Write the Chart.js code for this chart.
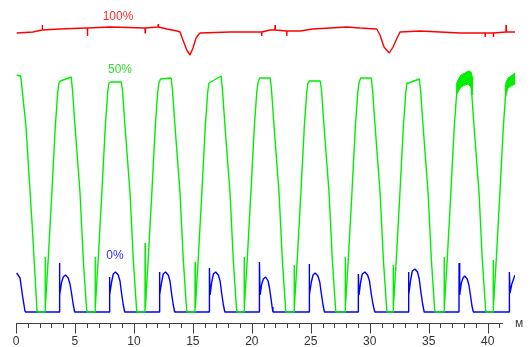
<!DOCTYPE html>
<html><head><meta charset="utf-8">
<script src="https://cdn.jsdelivr.net/npm/chart.js@4/dist/chart.umd.min.js"></script>
<style>html,body{margin:0;padding:0;background:#fff;overflow:hidden}#wrap{width:530px;height:347px;position:relative}</style>
</head><body><div id="wrap"><canvas id="c"></canvas></div>
<script>
// ---- data (x in ms, y in relative brightness units; 0 = black level) ----
const xTickValues = [0, 5, 10, 15, 20, 25, 30, 35, 40];
const axisEndMs = 41.3;
const unitLabel = 'мс';

const seriesNames = ['100%', '50%', '0%'];
const labelPosX = [8.65, 8.82, 8.40];
const labelPosY = [295, 242, 56];

const red100 = [
 [0.06,279],[1.44,280],[2.21,282],[2.23,287],[2.25,282],[3.73,283],[5.94,284],[6.05,284],[6.06,276],[6.08,284],
 [7.97,285],[10.94,284],[10.95,279],[10.97,284],[12.04,285],[12.06,288],[12.08,285],[12.81,283],[13.66,281],
 [13.91,280],[14.16,272],[14.48,262],[14.76,257],[15.01,264],[15.27,274],[15.52,278],[15.61,279],
 [18.15,280],[20.83,280],[20.84,276],[20.86,280],[21.54,282],[21.96,282],[21.97,287],[21.99,282],
 [22.95,281],[22.96,276],[22.98,281],[24.09,281],[25.19,283],[26.63,284],[28.07,285],[29.18,284],[30.59,283],
 [30.87,277],[31.21,265],[31.66,259],[31.98,265],[32.32,274],[32.57,280],
 [34.27,281],[35.96,280],[37.66,279],[39.78,279],[39.79,275],[39.81,279],[40.48,279],[40.49,275],[40.51,279],
 [41.55,280],[41.56,287],[41.58,280],[42.32,280]
];

const green50 = [
 [0.06,237],[0.40,236],[0.51,224],[0.85,185],[1.38,85],[1.78,2],[1.82,0],
 [2.46,0],[2.47,55],[2.49,4],[2.73,52],[3.04,119],[3.33,185],[3.54,220],[3.64,229],[3.78,231],[4.68,235],[4.79,222],[5.01,185],[5.43,119],[5.71,52],[5.99,2],[6.02,0],
 [6.70,0],[6.71,55],[6.73,4],[6.97,52],[7.28,119],[7.57,185],[7.78,220],[7.88,229],[8.02,230],[8.92,230],[9.03,222],[9.25,185],[9.67,119],[9.95,52],[10.23,2],[10.26,0],
 [10.94,0],[10.95,69],[10.97,4],[11.21,52],[11.52,119],[11.81,185],[12.02,220],[12.12,229],[12.26,233],[13.16,234],[13.27,222],[13.49,185],[13.91,119],[14.19,52],[14.47,2],[14.50,0],
 [15.18,0],[15.19,50],[15.21,4],[15.45,52],[15.76,119],[16.05,185],[16.26,220],[16.36,229],[16.50,230],[17.40,236],[17.51,222],[17.73,185],[18.15,119],[18.43,52],[18.71,2],[18.74,0],
 [19.34,0],[19.35,55],[19.37,4],[19.61,52],[19.92,119],[20.21,185],[20.42,220],[20.52,229],[20.66,234],[21.56,234],[21.67,222],[21.89,185],[22.31,119],[22.59,52],[22.87,2],[22.90,0],
 [23.58,0],[23.59,47],[23.61,4],[23.85,52],[24.16,119],[24.45,185],[24.66,220],[24.76,229],[24.90,231],[25.80,231],[25.91,222],[26.13,185],[26.55,119],[26.83,52],[27.11,2],[27.14,0],
 [27.91,0],[27.92,55],[27.94,4],[28.18,52],[28.49,119],[28.78,185],[28.99,220],[29.09,229],[29.23,234],[30.13,234],[30.24,222],[30.46,185],[30.88,119],[31.16,52],[31.44,2],[31.47,0],
 [31.98,0],[31.99,47],[32.01,4],[32.25,52],[32.56,119],[32.85,185],[33.06,220],[33.16,229],[33.30,229],[34.20,233],[34.31,222],[34.53,185],[34.95,119],[35.23,52],[35.51,2],[35.54,0],
 [36.30,0],[36.31,55],[36.33,4],[36.57,52],[36.88,119],[37.17,185],[37.38,220],[37.48,226],[37.62,231],[38.00,233],[38.52,233],[38.63,222],[38.85,185],[39.27,119],[39.55,52],[39.83,2],[39.86,0],
 [40.46,0],[40.47,52],[40.49,4],[40.73,52],[41.04,119],[41.33,185],[41.54,220],[41.64,226],[41.80,230],[42.32,234]
];

// noisy plateaus of the 50% trace (upper / lower envelopes)
const bandAUpper = [[37.32,227],[37.49,232],[37.74,237],[38.08,239],[38.34,241],[38.59,240],[38.76,232]];
const bandALower = [[37.32,217],[37.49,220],[37.74,225],[38.08,227],[38.34,228],[38.59,225],[38.76,217]];
const bandBUpper = [[41.48,222],[41.56,230],[41.73,234],[41.98,236],[42.32,239]];
const bandBLower = [[41.48,212],[41.56,217],[41.73,224],[41.98,226],[42.32,228]];

const blue0 = [
 [0.06,39],[0.34,34],[0.57,15],[0.76,1],[0.80,0],
 [3.67,0],[3.675,49],[3.73,17],[3.87,30],[4.01,35],[4.20,37],[4.43,34],[4.58,28],[4.72,18],[4.86,7],[4.98,0],
 [7.91,0],[7.915,35],[7.97,17],[8.11,30],[8.25,38],[8.44,40],[8.67,37],[8.82,31],[8.96,18],[9.10,7],[9.22,0],
 [12.15,0],[12.155,40],[12.21,17],[12.35,30],[12.49,38],[12.68,40],[12.91,37],[13.06,31],[13.20,18],[13.34,7],[13.46,0],
 [16.40,0],[16.405,44],[16.46,17],[16.60,30],[16.74,38],[16.93,40],[17.16,37],[17.31,31],[17.45,18],[17.59,7],[17.71,0],
 [20.64,0],[20.645,50],[20.70,17],[20.84,28],[20.98,33],[21.17,35],[21.38,31],[21.50,24],[21.62,14],[21.72,5],[21.79,0],
 [24.85,0],[24.855,48],[24.91,17],[25.05,30],[25.19,37],[25.38,39],[25.61,36],[25.76,30],[25.90,18],[26.04,7],[26.16,0],
 [29.03,0],[29.035,38],[29.09,17],[29.23,30],[29.37,38],[29.59,40],[29.82,37],[29.98,31],[30.13,18],[30.29,7],[30.43,0],
 [33.27,0],[33.275,40],[33.33,17],[33.47,32],[33.61,41],[33.83,43],[34.05,40],[34.20,33],[34.35,19],[34.50,7],[34.62,0],
 [37.57,0],[37.575,49],[37.63,17],[37.77,29],[37.91,34],[38.05,36],[38.27,33],[38.41,27],[38.54,17],[38.67,6],[38.79,0],
 [41.84,0],[41.845,40],[41.90,19],[42.05,28],[42.32,37]
];

// ---- chart ----
const toXY = a => a.map(p => ({x: p[0], y: p[1]}));
const RED = '#ff0000', GREEN = '#00ee00', BLUE = '#0000ff';
const lineBase = {pointRadius: 0, borderWidth: 1.4, tension: 0, borderJoinStyle: 'bevel', fill: false};
const FONT = '12px "Liberation Sans", Arial, sans-serif';

const axisPlugin = {
  id: 'axisDraw',
  afterDraw(chart) {
    const {ctx, chartArea, scales: {x, y}} = chart;
    const yb = Math.round(chartArea.bottom) + 0.5;
    ctx.save();
    ctx.strokeStyle = '#404040';
    ctx.lineWidth = 1;
    ctx.beginPath();
    ctx.moveTo(Math.round(x.getPixelForValue(0)), yb);
    ctx.lineTo(Math.round(x.getPixelForValue(axisEndMs)), yb);
    for (let v = 0; v <= Math.floor(axisEndMs); v++) {
      const px = Math.round(x.getPixelForValue(v)) + 0.5;
      const len = (v % 5 === 0) ? 10 : 4.5;
      ctx.moveTo(px, yb);
      ctx.lineTo(px, yb + len);
    }
    ctx.stroke();
    ctx.font = FONT;
    ctx.textBaseline = 'middle';
    // tick labels
    ctx.fillStyle = '#333';
    ctx.textAlign = 'center';
    xTickValues.forEach(v => ctx.fillText(String(v), x.getPixelForValue(v), yb + 18.5));
    // unit (partly cut off at the right edge, as in the source)
    ctx.save();
    ctx.beginPath();
    ctx.rect(0, 0, 523, chart.height);
    ctx.clip();
    ctx.fillStyle = '#404040';
    ctx.textAlign = 'left';
    ctx.fillText(unitLabel, x.getPixelForValue(axisEndMs) + 12, yb);
    ctx.restore();
    // series labels
    const cols = ['#ff2a2a', '#2ee02e', '#3030ff'];
    ctx.textAlign = 'center';
    seriesNames.forEach((n, i) => {
      ctx.fillStyle = cols[i];
      ctx.fillText(n, x.getPixelForValue(labelPosX[i]), y.getPixelForValue(labelPosY[i]));
    });
    ctx.restore();
  }
};

new Chart(document.getElementById('c'), {
  type: 'line',
  data: {
    datasets: [
      Object.assign({}, lineBase, {label: seriesNames[0], data: toXY(red100), borderColor: RED, order: 0}),
      Object.assign({}, lineBase, {label: seriesNames[1], data: toXY(green50), borderColor: GREEN, order: 1}),
      Object.assign({}, lineBase, {label: 'bandA-up', data: toXY(bandAUpper), borderColor: GREEN, backgroundColor: GREEN, borderWidth: 1, order: 1}),
      Object.assign({}, lineBase, {label: 'bandA-lo', data: toXY(bandALower), borderColor: GREEN, backgroundColor: GREEN, borderWidth: 1, fill: '-1', order: 1}),
      Object.assign({}, lineBase, {label: 'bandB-up', data: toXY(bandBUpper), borderColor: GREEN, backgroundColor: GREEN, borderWidth: 1, order: 1}),
      Object.assign({}, lineBase, {label: 'bandB-lo', data: toXY(bandBLower), borderColor: GREEN, backgroundColor: GREEN, borderWidth: 1, fill: '-1', order: 1}),
      Object.assign({}, lineBase, {label: seriesNames[2], data: toXY(blue0), borderColor: BLUE, order: 2})
    ]
  },
  options: {
    responsive: true,
    maintainAspectRatio: false,
    animation: false,
    events: [],
    layout: {padding: {left: 16, right: 15, top: 0, bottom: 14.3}},
    plugins: {legend: {display: false}, tooltip: {enabled: false}},
    scales: {
      x: {
        type: 'linear',
        min: 0,
        max: 42.32,
        border: {display: false},
        grid: {display: true, drawOnChartArea: false, drawTicks: true, tickLength: 10, tickColor: 'rgba(0,0,0,0)'},
        afterBuildTicks: s => { s.ticks = xTickValues.map(v => ({value: v})); },
        ticks: {display: false}
      },
      y: {
        type: 'linear',
        display: false,
        min: -10.7,
        max: 312
      }
    }
  },
  plugins: [axisPlugin]
});
</script></body></html>
